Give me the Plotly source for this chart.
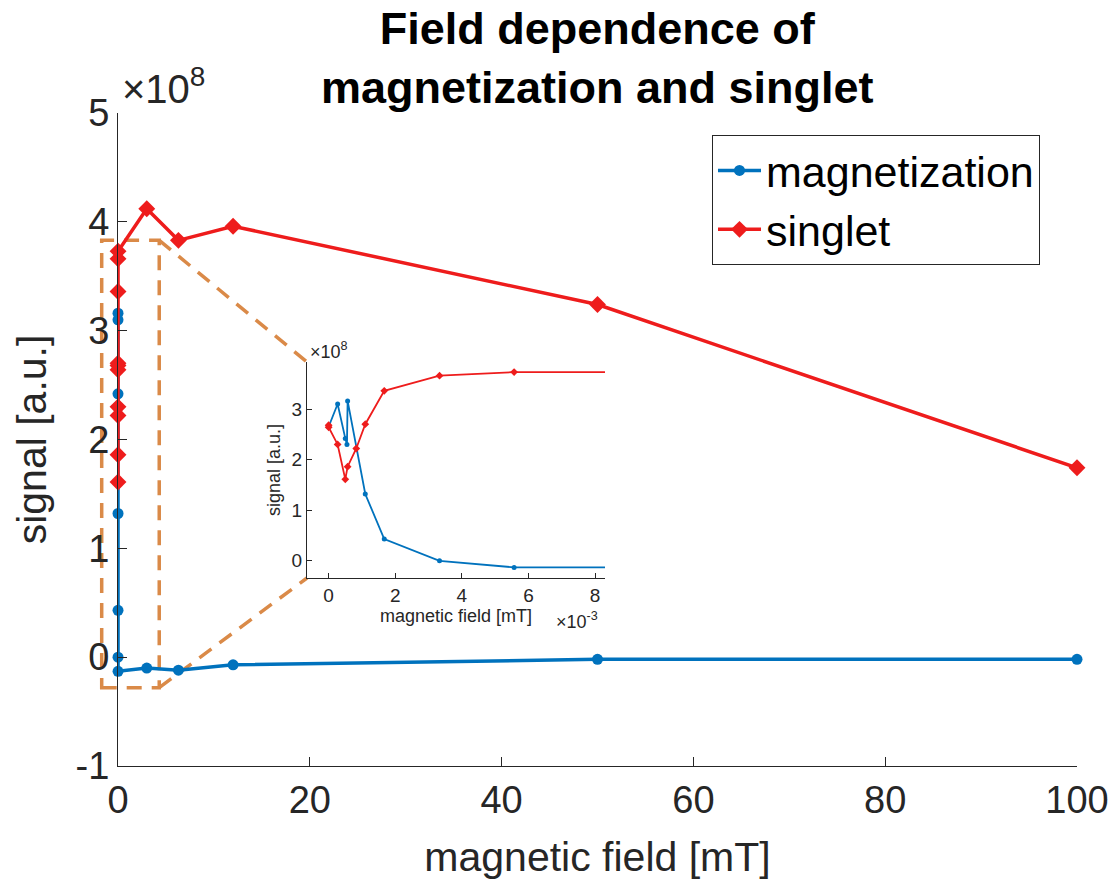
import plotly.graph_objects as go

# ---- data -------------------------------------------------------------
# magnetic field in mT
mag_field = [0, 0.27e-3, 0.50e-3, 0.55e-3, 0.57e-3, 1.10e-3, 1.67e-3, 3.33e-3, 5.57e-3,
             3.0, 6.3, 12.0, 50.0, 100.0]
mag_signal = [2.65e8, 3.10e8, 2.42e8, 2.30e8, 3.16e8, 1.32e8, 0.43e8, 0.00e8, -0.13e8,
              -0.10e8, -0.12e8, -0.07e8, -0.02e8, -0.02e8]

sing_field = [0, 0, 0.27e-3, 0.50e-3, 0.57e-3, 0.83e-3, 1.10e-3, 1.67e-3, 3.33e-3, 5.57e-3,
              3.0, 6.3, 12.0, 50.0, 100.0]
sing_signal = [2.68e8, 2.64e8, 2.30e8, 1.61e8, 1.86e8, 2.22e8, 2.70e8, 3.36e8, 3.66e8, 3.73e8,
               4.12e8, 3.83e8, 3.96e8, 3.24e8, 1.74e8]

main_xticks = [0, 20, 40, 60, 80, 100]
main_yticks = [-1e8, 0, 1e8, 2e8, 3e8, 4e8, 5e8]
main_yticktext = ["-1", "0", "1", "2", "3", "4", "5"]
inset_xticks = [0, 2e-3, 4e-3, 6e-3, 8e-3]
inset_xticktext = ["0", "2", "4", "6", "8"]
inset_yticks = [0, 1e8, 2e8, 3e8]
inset_yticktext = ["0", "1", "2", "3"]

# zoom window marked on the main axes (data units)
zoom_x = [-1.7, 4.3]
zoom_y = [-0.28e8, 3.83e8]

# ---- layout geometry ----------------------------------------------------
W, H = 1117, 886
BLUE = "#0072BD"
RED = "#EE1C1C"
ORANGE = "#DA8A48"
AXC = "#262626"
FONT = "Liberation Sans, Arial, Helvetica, sans-serif"

main_xdom = [118 / W, 1077 / W]
main_ydom = [1 - 766 / H, 1 - 113 / H]
main_xr = [0, 100]
main_yr = [-1e8, 5e8]

ins_xdom = [307 / W, 605 / W]
ins_ydom = [1 - 578 / H, 1 - 362 / H]
ins_xr = [-0.65e-3, 8.3e-3]
ins_yr = [-0.34e8, 3.93e8]


def to_paper(x, y):
    px = main_xdom[0] + (x - main_xr[0]) / (main_xr[1] - main_xr[0]) * (main_xdom[1] - main_xdom[0])
    py = main_ydom[0] + (y - main_yr[0]) / (main_yr[1] - main_yr[0]) * (main_ydom[1] - main_ydom[0])
    return px, py


fig = go.Figure()

# main axes
fig.add_trace(go.Scatter(
    x=mag_field, y=mag_signal, name="magnetization", mode="lines+markers",
    line=dict(color=BLUE, width=3.5), marker=dict(symbol="circle", size=11, color=BLUE),
    cliponaxis=False, xaxis="x", yaxis="y"))
fig.add_trace(go.Scatter(
    x=sing_field, y=sing_signal, name="singlet", mode="lines+markers",
    line=dict(color=RED, width=3.5), marker=dict(symbol="diamond", size=13, color=RED),
    cliponaxis=False, xaxis="x", yaxis="y"))

# inset axes
fig.add_trace(go.Scatter(
    x=mag_field, y=mag_signal, mode="lines+markers", showlegend=False,
    line=dict(color=BLUE, width=1.8), marker=dict(symbol="circle", size=5, color=BLUE),
    xaxis="x2", yaxis="y2"))
fig.add_trace(go.Scatter(
    x=sing_field, y=sing_signal, mode="lines+markers", showlegend=False,
    line=dict(color=RED, width=1.8), marker=dict(symbol="diamond", size=6, color=RED),
    xaxis="x2", yaxis="y2"))

axis_common = dict(showline=True, linecolor=AXC, linewidth=1, ticks="inside",
                   tickcolor=AXC, showgrid=False, zeroline=False, mirror=False,
                   automargin=False)

fig.update_layout(
    width=W, height=H, autosize=False,
    margin=dict(l=0, r=0, t=0, b=0, autoexpand=False),
    paper_bgcolor="white", plot_bgcolor="rgba(0,0,0,0)",
    font=dict(family=FONT, color=AXC),
    xaxis=dict(domain=main_xdom, range=main_xr, tickvals=main_xticks,
               ticklen=9, tickfont=dict(size=38, color=AXC),
               title=dict(text="magnetic field [mT]", font=dict(size=41, color=AXC), standoff=22),
               anchor="y", **axis_common),
    yaxis=dict(domain=main_ydom, range=main_yr, tickvals=main_yticks, ticktext=main_yticktext,
               ticklen=9, tickfont=dict(size=38, color=AXC),
               title=dict(text="signal [a.u.]", font=dict(size=41, color=AXC), standoff=16),
               anchor="x", **axis_common),
    xaxis2=dict(domain=ins_xdom, range=ins_xr, tickvals=inset_xticks, ticktext=inset_xticktext,
                ticklen=5, tickfont=dict(size=19, color=AXC),
                title=dict(text="magnetic field [mT]", font=dict(size=18, color=AXC), standoff=4),
                anchor="y2", **axis_common),
    yaxis2=dict(domain=ins_ydom, range=ins_yr, tickvals=inset_yticks, ticktext=inset_yticktext,
                ticklen=5, tickfont=dict(size=19, color=AXC),
                title=dict(text="signal [a.u.]", font=dict(size=18, color=AXC), standoff=6),
                anchor="x2", **axis_common),
    legend=dict(x=712 / W, y=1 - 135 / H, xanchor="left", yanchor="top",
                bgcolor="white", bordercolor=AXC, borderwidth=1,
                font=dict(size=43, color="black", family=FONT),
                itemwidth=43, tracegroupgap=0),
    showlegend=True,
)

# title
fig.add_annotation(text="<b>Field dependence of<br>magnetization and singlet</b>",
                   xref="paper", yref="paper",
                   x=597.5 / W, y=1 - 58 / H, xanchor="center", yanchor="middle",
                   showarrow=False, font=dict(size=45, color="black"))

# exponent labels
fig.add_annotation(text="×10<sup>8</sup>", xref="paper", yref="paper",
                   x=120 / W, y=1 - 86 / H, xanchor="left", yanchor="middle",
                   showarrow=False, font=dict(size=40, color=AXC))
fig.add_annotation(text="×10<sup>8</sup>", xref="paper", yref="paper",
                   x=308 / W, y=1 - 350 / H, xanchor="left", yanchor="middle",
                   showarrow=False, font=dict(size=18, color=AXC))
fig.add_annotation(text="×10<sup>-3</sup>", xref="paper", yref="paper",
                   x=554 / W, y=1 - 620 / H, xanchor="left", yanchor="middle",
                   showarrow=False, font=dict(size=18, color=AXC))

# zoom window and connectors
bx0, by0 = to_paper(zoom_x[0], zoom_y[0])
bx1, by1 = to_paper(zoom_x[1], zoom_y[1])
dash_line = dict(color=ORANGE, width=3.5, dash="15px,10px")
fig.add_shape(type="rect", xref="paper", yref="paper", x0=bx0, y0=by0, x1=bx1, y1=by1,
              line=dash_line, layer="below")
fig.add_shape(type="line", xref="paper", yref="paper", x0=bx1, y0=by1,
              x1=ins_xdom[0], y1=ins_ydom[1], line=dash_line, layer="below")
fig.add_shape(type="line", xref="paper", yref="paper", x0=bx1, y0=by0,
              x1=ins_xdom[0], y1=ins_ydom[0], line=dash_line, layer="below")

fig.write_html("out.html")
